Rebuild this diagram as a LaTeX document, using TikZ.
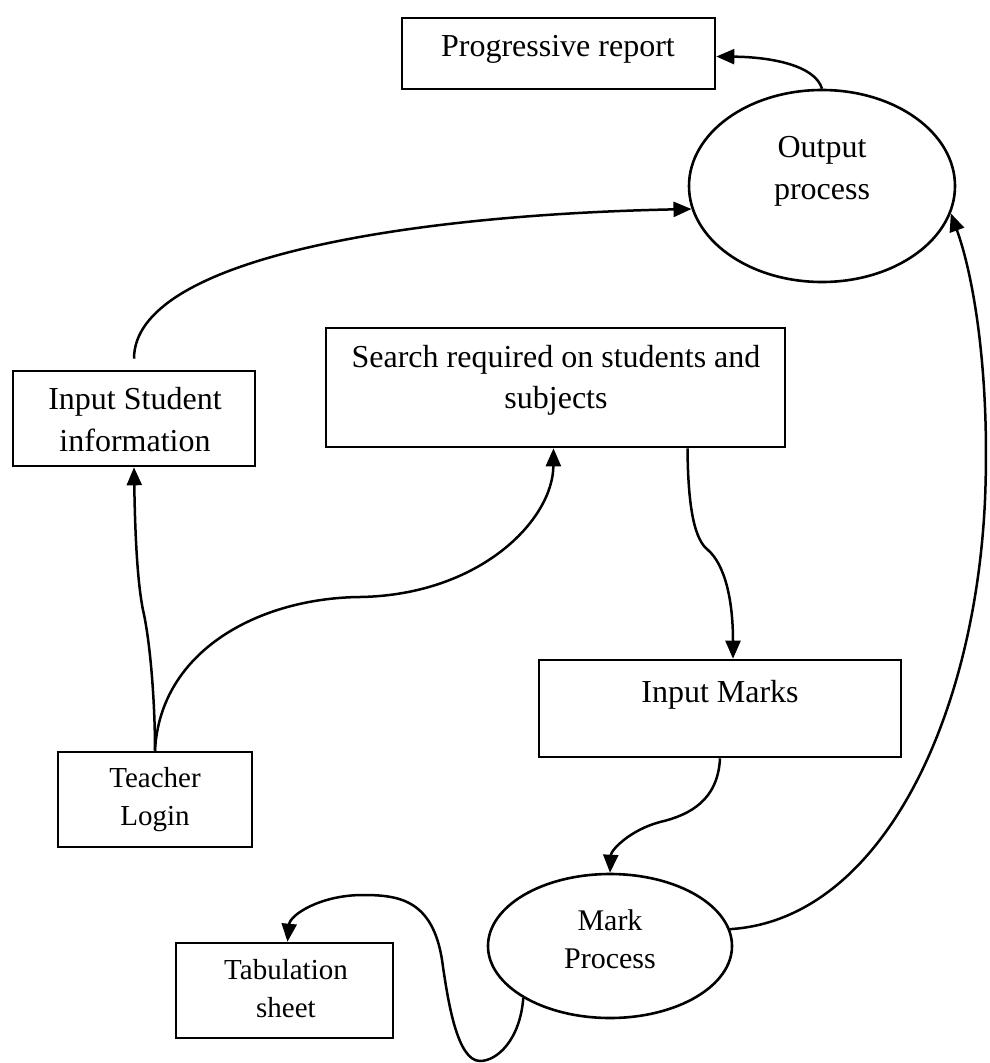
\documentclass[tikz,border=0pt]{standalone}
\usepackage{fontspec}
\setmainfont{Liberation Serif}
\usetikzlibrary{arrows.meta,shapes.geometric}

\begin{document}
\begin{tikzpicture}[x=1pt,y=-1pt,
  box/.style={draw,line width=2.6pt,rectangle,inner sep=0pt},
  oval/.style={draw,line width=2.6pt,ellipse,inner sep=0pt},
  lbl/.style={inner sep=0pt,align=center},
  big/.style={font=\fontsize{32}{42}\selectfont},
  small/.style={font=\fontsize{29}{37.5}\selectfont},
  flow/.style={line width=2.5pt,-{Triangle[length=18pt,width=15pt]}},
]
\useasboundingbox (0,0) rectangle (990,1063);

% process shapes
\node[box,minimum width=313pt,minimum height=71pt] (pr) at (558.5,53.5) {};
\node[oval,minimum width=266pt,minimum height=192pt] (op) at (822,186) {};
\node[box,minimum width=242pt,minimum height=95pt] (isi) at (134,418.5) {};
\node[box,minimum width=459pt,minimum height=119pt] (sr) at (555.5,387.5) {};
\node[box,minimum width=362pt,minimum height=97pt] (im) at (720,708.5) {};
\node[box,minimum width=194pt,minimum height=95pt] (tl) at (155,799.5) {};
\node[oval,minimum width=244pt,minimum height=144pt] (mp) at (610,946) {};
\node[box,minimum width=217pt,minimum height=95pt] (tab) at (284.5,990.5) {};

% captions
\node[lbl,big] (pr-t) at (558,49.5) {Progressive report};
\node[lbl,big] (op-t) at (822,171) {Output\\process};
\node[lbl,big] (isi-t) at (135,420) {Input Student\\information};
\node[lbl,font=\fontsize{32}{41}\selectfont] (sr-t) at (556,380) {Search required on students and\\subjects};
\node[lbl,big] (im-t) at (720,694.5) {Input Marks};
\node[lbl,small] (tl-t) at (155,799.5) {Teacher\\Login};
\node[lbl,font=\fontsize{30}{38}\selectfont] (mp-t) at (610,939) {Mark\\Process};
\node[lbl,font=\fontsize{29}{38}\selectfont] (tab-t) at (286,989) {Tabulation\\sheet};

% data flows
\draw[flow] (op.north) .. controls (815,65) and (770,57) .. ([yshift=-3pt]pr.east);
\draw[flow,shorten <=11pt] (isi.north) .. controls (134,260) and (400,215) .. (op.190);
\draw[flow] (tl.north) .. controls (155,700) and (150,640) .. (143,610)
  .. controls (137,580) and (135,530) .. (isi.south);
\draw[flow] (tl.north) .. controls (160,650) and (260,598) .. (360,597)
  .. controls (480,595) and (553,520) .. ([xshift=-2pt]sr.south);
\draw[flow] ([xshift=132pt]sr.south) .. controls (688,510) and (695,540) .. (708,550)
  .. controls (725,565) and (733,600) .. ([xshift=13pt]im.north);
\draw[flow] (im.south) .. controls (718,800) and (690,815) .. (660,822)
  .. controls (630,830) and (611,850) .. (mp.north);
\draw[flow] (mp.8) .. controls (880,920) and (975,720) .. (985,500)
  .. controls (990,380) and (975,280) .. (op.-12);
\draw[flow] (mp.211) .. controls (520,1040) and (497,1061) .. (480,1061)
  .. controls (457,1061) and (448,1000) .. (443,967)
  .. controls (435,900) and (400,895) .. (363,895)
  .. controls (320,895) and (290,915) .. ([xshift=3pt]tab.north);
\end{tikzpicture}
\end{document}
